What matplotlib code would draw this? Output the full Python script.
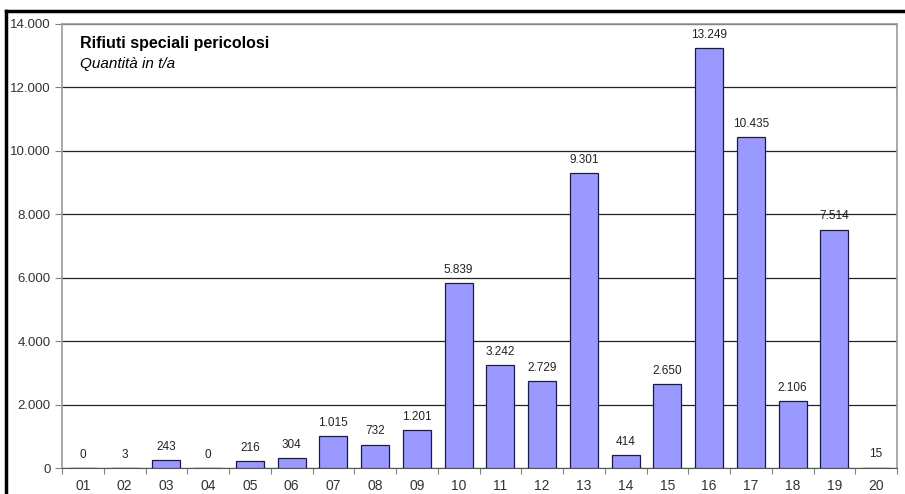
"""Rifiuti speciali pericolosi - quantità per capitolo CER (t/a)."""
import matplotlib
matplotlib.use("Agg")
import matplotlib.pyplot as plt
from matplotlib.lines import Line2D
import numpy as np

matplotlib.rcParams.update({
    "font.family": ["Liberation Sans", "DejaVu Sans"], "font.size": 9,
})

# Data
codes = ["01", "02", "03", "04", "05", "06", "07", "08", "09", "10",
         "11", "12", "13", "14", "15", "16", "17", "18", "19", "20"]
quantities = [0, 3, 243, 0, 216, 304, 1015, 732, 1201, 5839,
              3242, 2729, 9301, 414, 2650, 13249, 10435, 2106, 7514, 15]
y_ticks = [0, 2000, 4000, 6000, 8000, 10000, 12000, 14000]


def fmt(v):
    return f"{v:,}".replace(",", ".")


fig = plt.figure(figsize=(9.05, 4.94), dpi=100)
ax = fig.add_axes([62 / 905, 26 / 494, 835 / 905, 444 / 494])

x = np.arange(len(codes))
ax.bar(x, quantities, width=0.67, color="#9999FF", edgecolor="#1a1a4a",
       linewidth=0.9, zorder=3)

for xi, v in zip(x, quantities):
    ax.text(xi, v + 230, fmt(v), ha="center", va="bottom", fontsize=8.5,
            color="#222222", zorder=4)

ax.set_xlim(-0.5, len(codes) - 0.5)
ax.set_ylim(0, 14000)
ax.set_yticks(y_ticks)
ax.set_yticklabels([fmt(t) for t in y_ticks], color="#333333", fontsize=9.5)
ax.yaxis.grid(True, color="#222222", linewidth=0.9, zorder=1)
ax.set_axisbelow(True)

# category boundaries as ticks, labels at centres
ax.set_xticks(np.arange(-0.5, len(codes), 1.0))
ax.set_xticklabels([])
ax.set_xticks(x, minor=True)
ax.set_xticklabels(codes, minor=True, color="#333333", fontsize=10)
ax.tick_params(axis="x", which="major", length=4, color="#808080")
ax.tick_params(axis="x", which="minor", length=0, pad=8)
ax.tick_params(axis="y", length=5, color="#808080", pad=3)

for side in ["left", "top", "right"]:
    ax.spines[side].set_color("#9a9a9a")
    ax.spines[side].set_linewidth(1.2)
ax.spines["bottom"].set_color("#555555")

ax.text(0.022, 0.955, "Rifiuti speciali pericolosi", transform=ax.transAxes,
        fontsize=11.5, fontweight="bold", va="center")
ax.text(0.022, 0.91, "Quantità in t/a", transform=ax.transAxes,
        fontsize=11, style="italic", va="center")

# black frame of the original sheet (top and left)
fig.add_artist(Line2D([6 / 905, 1.0], [1 - 11 / 494, 1 - 11 / 494],
                      color="black", linewidth=2.5, transform=fig.transFigure))
fig.add_artist(Line2D([6 / 905, 6 / 905], [0, 1 - 11 / 494],
                      color="black", linewidth=2.5, transform=fig.transFigure))

fig.savefig("out.png", dpi=100)
